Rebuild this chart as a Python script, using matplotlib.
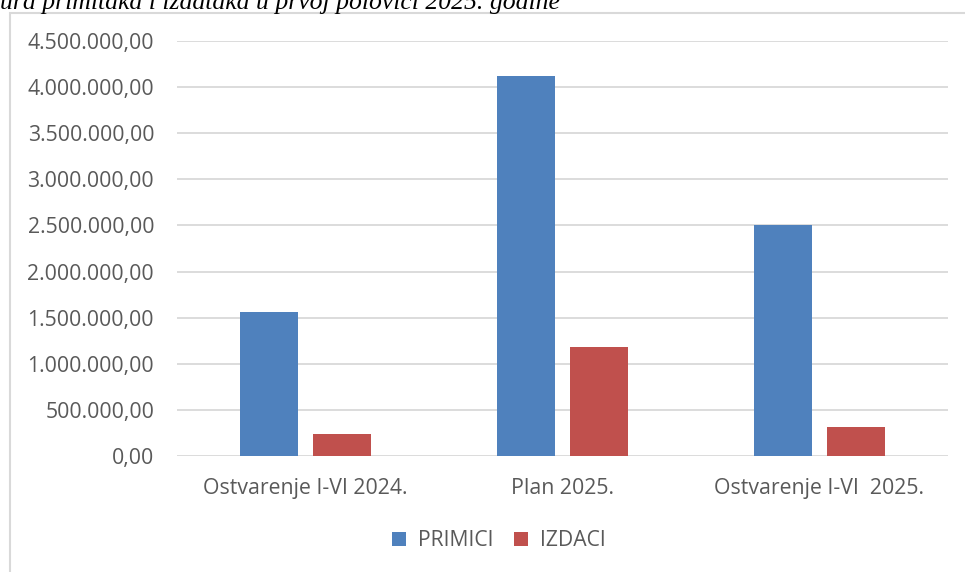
import matplotlib
matplotlib.use("Agg")
import matplotlib.pyplot as plt
import numpy as np
from matplotlib.patches import Rectangle

# data
categories = ["Ostvarenje I-VI 2024.", "Plan 2025.", "Ostvarenje I-VI  2025."]
primici = [1562000, 4121000, 2505000]
izdaci = [239000, 1182000, 315000]
yticks = np.arange(0, 4500001, 500000)

def fmt(v):
    # 1.500.000,00 style
    s = "{:,.2f}".format(v)
    return s.replace(",", "X").replace(".", ",").replace("X", ".")

fig = plt.figure(figsize=(9.65, 5.72), dpi=100)
W, H = 965, 572

# chart frame (light grey border, clipped at right/bottom)
fig.patches.append(Rectangle((9.5 / W, -0.1), 2.0, (572 - 12.5) / H + 0.1,
                             transform=fig.transFigure, fill=False,
                             edgecolor="#d9d9d9", linewidth=1.5))

# cropped title at the top
fig.text(0.0, 1 - 9 / H, "ura primitaka i izdataka u prvoj polovici 2025. godine",
         family="Liberation Serif", style="italic", fontsize=18.5, color="black",
         ha="left", va="baseline")

ax = fig.add_axes([177 / W, 1 - 456 / H, (948 - 177) / W, (456 - 41) / H])
x = np.arange(len(categories))
bw = 0.226
gap = 0.058
ax.bar(x - (bw + gap) / 2, primici, bw, color="#4f81bd", label="PRIMICI", zorder=2)
ax.bar(x + (bw + gap) / 2, izdaci, bw, color="#c0504d", label="IZDACI", zorder=2)

ax.set_xlim(-0.5, len(categories) - 0.5)
ax.set_ylim(0, 4500000)
ax.set_yticks(yticks)
ax.set_yticklabels([fmt(v) for v in yticks])
ax.set_xticks(x)
ax.set_xticklabels(categories)
ax.yaxis.grid(True, color="#d9d9d9", linewidth=1.3, zorder=0)
ax.set_axisbelow(True)
for s in ax.spines.values():
    s.set_visible(False)
ax.tick_params(axis="both", length=0, labelsize=15.3, colors="#595959")
ax.tick_params(axis="y", pad=16.5)
ax.tick_params(axis="x", pad=16)
for lab in ax.get_xticklabels() + ax.get_yticklabels():
    lab.set_family("Open Sans")

# legend is centred on the whole chart area, not on the plot
leg = fig.legend(*ax.get_legend_handles_labels(), loc="center",
                 bbox_to_anchor=(499 / W, 1 - 541 / H),
                 ncol=2, frameon=False, handlelength=0.65,
                 handleheight=0.65, columnspacing=0.95, handletextpad=0.6,
                 prop={"family": "Open Sans", "size": 15.2})
for t in leg.get_texts():
    t.set_color("#595959")

fig.savefig("out.png", dpi=100)
